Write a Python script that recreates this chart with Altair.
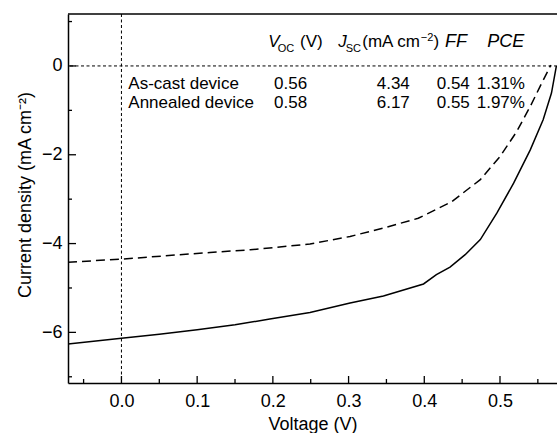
import altair as alt
import pandas as pd

# J-V curves (voltage in V, current density in mA cm^-2)
annealed_v = [-0.0706, 0.0, 0.05, 0.1, 0.15, 0.196, 0.249, 0.302, 0.346, 0.399,
              0.416, 0.434, 0.454, 0.474, 0.496, 0.518, 0.540, 0.557, 0.568, 0.5745]
annealed_j = [-6.26, -6.13, -6.04, -5.94, -5.83, -5.70, -5.55, -5.34, -5.18, -4.91,
              -4.70, -4.53, -4.25, -3.91, -3.31, -2.64, -1.89, -1.21, -0.61, 0.0]

ascast_v = [-0.0706, 0.0, 0.117, 0.170, 0.249, 0.302, 0.346, 0.392, 0.436, 0.474,
            0.500, 0.522, 0.540, 0.553, 0.564, 0.567]
ascast_j = [-4.42, -4.35, -4.20, -4.14, -4.01, -3.84, -3.65, -3.43, -3.06, -2.56,
            -2.04, -1.48, -0.91, -0.46, -0.09, 0.02]

# axis ticks
x_major = [0.0, 0.1, 0.2, 0.3, 0.4, 0.5]
x_minor = [-0.05, 0.05, 0.15, 0.25, 0.35, 0.45, 0.55]
y_major = [0, -2, -4, -6]
y_minor = [1, -1, -3, -5, -7]

# device parameter table
devices = ["As-cast device", "Annealed device"]
voc = ["0.56", "0.58"]
jsc = ["4.34", "6.17"]
ff = ["0.54", "0.55"]
pce = ["1.31%", "1.97%"]

FONT = "Liberation Sans"
FS = 18        # axis labels and titles
FS_HEAD = 17   # table header
FS_ROW = 17    # table rows
SUB = 11       # sub/superscripts
W, H = 489, 369

xs = alt.Scale(domain=[-0.0706, 0.5753], nice=False, zero=False)
ys = alt.Scale(domain=[-7.14, 1.17], nice=False, zero=False)

# one axis definition per channel, shared by every layer that encodes it
x_axis = alt.Axis(values=x_major, format=".1f", ticks=False, tickSize=0, grid=False,
                  domainColor="black", domainWidth=1.5, labelFontSize=FS,
                  labelPadding=9, labelColor="black", title="Voltage (V)",
                  titleFontSize=FS, titleFontWeight="normal", titleColor="black",
                  titleBaseline="alphabetic", titleY=46)
y_axis = alt.Axis(values=y_major, ticks=False, tickSize=0, grid=False,
                  domainColor="black", domainWidth=1.5, labelFontSize=FS,
                  labelPadding=6, labelColor="black",
                  title="Current density (mA cm\u207b\u00b2)", titleFontSize=FS,
                  titleFontWeight="normal", titleColor="black",
                  titleBaseline="alphabetic", titleX=-38, titleY=H / 2 - 4)


def X(field="v"):
    return alt.X(f"{field}:Q", scale=xs, axis=x_axis)


def Y(field="j"):
    return alt.Y(f"{field}:Q", scale=ys, axis=y_axis)


annealed = alt.Chart(pd.DataFrame({"v": annealed_v, "j": annealed_j})).mark_line(
    color="black", strokeWidth=1.5, clip=True
).encode(x=X(), y=Y())

ascast = alt.Chart(pd.DataFrame({"v": ascast_v, "j": ascast_j})).mark_line(
    color="black", strokeWidth=1.5, strokeDash=[9, 5], clip=True
).encode(x=X(), y=Y())

# dotted reference lines at V = 0 and J = 0
v_zero = alt.Chart(pd.DataFrame({"v": [0.0]})).mark_rule(
    color="black", strokeWidth=1, strokeDash=[3, 2.5]
).encode(x=X())
j_zero = alt.Chart(pd.DataFrame({"j": [0.0]})).mark_rule(
    color="black", strokeWidth=1, strokeDash=[3, 2.5]
).encode(y=Y())

# top edge of the frame
frame_top = alt.Chart(pd.DataFrame({"k": [0]})).mark_rule(
    color="black", strokeWidth=1.5
).encode(y=alt.value(0), x=alt.value(0), x2=alt.value(W))


def x_ticks(vals, length):
    return alt.Chart(pd.DataFrame({"v": vals})).mark_rule(color="black", strokeWidth=1.3).encode(
        x=X(), y=alt.value(H), y2=alt.value(H - length))


def y_ticks(vals, length):
    return alt.Chart(pd.DataFrame({"j": vals})).mark_rule(color="black", strokeWidth=1.3).encode(
        y=Y(), x=alt.value(0), x2=alt.value(length))


def label(text, x, y, size, style="normal"):
    return alt.Chart(pd.DataFrame({"t": [text]})).mark_text(
        align="left", baseline="alphabetic", font=FONT, fontSize=size,
        fontStyle=style, color="black"
    ).encode(text="t:N", x=alt.value(x), y=alt.value(y))


header = [
    label("V", 200.3, 33, FS_HEAD, style="italic"),
    label("OC", 209.7, 38, SUB),
    label("(V)", 232, 33, FS_HEAD),
    label("J", 270.3, 33, FS_HEAD, style="italic"),
    label("SC", 277.7, 38, SUB),
    label("(mA cm", 294.3, 33, FS_HEAD),
    label("\u22122", 352.8, 27, SUB),
    label(")", 365.5, 33, FS_HEAD),
    label("FF", 377, 33, FS_HEAD + 1, style="italic"),
    label("PCE", 419.3, 33, FS_HEAD + 1, style="italic"),
]

rows = []
for i, name in enumerate(devices):
    yb = 74.8 + 19 * i
    rows += [
        label(name, 60.3, yb, FS_ROW),
        label(voc[i], 206, yb, FS_ROW),
        label(jsc[i], 308.7, yb, FS_ROW),
        label(ff[i], 368.7, yb, FS_ROW),
        label(pce[i], 408.7, yb, FS_ROW),
    ]

chart = alt.layer(
    annealed, ascast, j_zero, v_zero, frame_top,
    x_ticks(x_major, 7), x_ticks(x_minor, 4),
    y_ticks(y_major, 8), y_ticks(y_minor, 4),
    *header, *rows
).properties(
    width=W, height=H,
    padding={"left": 68, "top": 14, "right": 0, "bottom": 50},
    autosize=alt.AutoSizeParams(type="none"),
    background="white",
).configure_view(stroke=None).configure_axis(
    labelFont=FONT, titleFont=FONT
)

chart.save("out.html", embed_options={"renderer": "svg", "actions": False})
